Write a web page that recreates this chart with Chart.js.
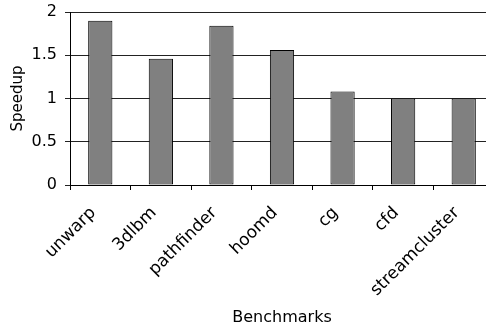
<!DOCTYPE html>
<html>
<head>
<meta charset="utf-8">
<script src="https://cdn.jsdelivr.net/npm/chart.js@4/dist/chart.umd.min.js"></script>
<style>
  html, body { margin: 0; padding: 0; overflow: hidden; background: #fff; }
  #wrap { width: 486px; height: 327px; overflow: hidden; }
</style>
</head>
<body>
<div id="wrap"><canvas id="myChart" width="494" height="327"></canvas></div>
<script>
const benchmarks = ["unwarp", "3dlbm", "pathfinder", "hoomd", "cg", "cfd", "streamcluster"]
const speedup = [1.9, 1.46, 1.84, 1.56, 1.08, 1.0, 1.0]
const yTicks = [0, 0.5, 1, 1.5, 2]

const font = { family: "DejaVu Sans", size: 16 }

const drawChart = () => {
  new Chart(document.getElementById("myChart"), {
    type: "bar",
    data: {
      labels: benchmarks,
      datasets: [
        {
          label: "Speedup",
          data: speedup,
          backgroundColor: "#808080",
          borderColor: "#000",
          borderWidth: 1,
          borderSkipped: false,
          categoryPercentage: 1,
          barPercentage: 0.4,
        },
      ],
    },
    options: {
      responsive: false,
      animation: false,
      layout: { padding: { top: 12, right: 0, left: 0, bottom: 0 } },
      plugins: { legend: { display: false }, tooltip: { enabled: false } },
      scales: {
        x: {
          grid: { drawOnChartArea: false, drawTicks: true, tickLength: 5, color: "#000", offset: true },
          border: { color: "#000" },
          ticks: { color: "#000", font: { family: "DejaVu Sans", size: 17 }, minRotation: 45, maxRotation: 45, padding: 13, labelOffset: -7 },
          title: { display: true, text: "Benchmarks", color: "#000", font: font, padding: { top: 0, bottom: 0 } },
          afterFit: (scale) => {
            scale.height = 142
            scale.paddingLeft = 0
            scale.paddingRight = 0
          },
        },
        y: {
          min: 0,
          max: 2,
          afterBuildTicks: (axis) => { axis.ticks = yTicks.map(v => ({ value: v })) },
          grid: { color: "#222", tickLength: 5 },
          border: { color: "#000" },
          ticks: { color: "#000", font: font, padding: 8, callback: (v) => String(v) },
          title: { display: true, text: "Speedup", color: "#000", font: { family: "DejaVu Sans", size: 15 }, padding: { top: 9, bottom: 0 } },
          afterFit: (scale) => {
            scale.width = 70
            scale.paddingTop = 0
            scale.paddingBottom = 0
          },
        },
      },
    },
  })
}

window.addEventListener("load", drawChart)
</script>
</body>
</html>
